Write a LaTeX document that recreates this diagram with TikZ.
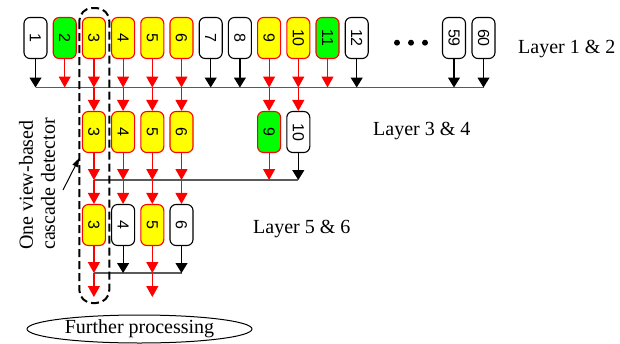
\documentclass[tikz,border=0pt]{standalone}
\usepackage{fontspec}
\usepackage{graphicx}
\setmainfont{Liberation Serif}
\newfontfamily\numfont{Liberation Sans}
\usetikzlibrary{arrows.meta,shapes.geometric}
\definecolor{pgreen}{RGB}{0,255,0}
\definecolor{pyellow}{RGB}{255,255,0}
\definecolor{pred}{RGB}{255,0,0}
\definecolor{busgray}{RGB}{90,90,90}
\newcommand{\bn}[1]{\rotatebox{-90}{\numfont\fontsize{16}{16}\selectfont #1}}
\tikzset{
  boxbase/.style={rectangle, rounded corners=6pt, minimum width=23pt, minimum height=41pt, inner sep=0pt, line width=1.1pt},
  wbox/.style={boxbase, draw=black, fill=white},
  ybox/.style={boxbase, draw=pred, fill=pyellow},
  gbox/.style={boxbase, draw=pred, fill=pgreen},
  rarr/.style={draw=pred, line width=1.2pt, -{Triangle[width=12pt,length=11pt]}},
  barr/.style={draw=black, line width=1.2pt, -{Triangle[width=12pt,length=10pt]}},
  busline/.style={draw=busgray, line width=1.4pt},
  dashbox/.style={draw=black, line width=2pt, dash pattern=on 8pt off 4pt, rounded corners=13pt},
  lbl/.style={inner sep=0pt, font=\fontsize{20}{22}\selectfont},
}
\begin{document}
\begin{tikzpicture}[x=1pt,y=-1pt]
\useasboundingbox (0,0) rectangle (620,343);
% Layer 1 & 2
\foreach \n/\x/\s/\a in {1/35.5/wbox/barr, 2/64.7/gbox/rarr, 3/93.9/ybox/rarr, 4/123.1/ybox/rarr, 5/152.3/ybox/rarr, 6/181.5/ybox/rarr, 7/210.7/wbox/barr, 8/239.9/wbox/barr, 9/269.1/ybox/rarr, 10/298.3/ybox/rarr, 11/327.5/gbox/rarr, 12/356.7/wbox/barr, 59/454/wbox/barr, 60/483.5/wbox/barr}
  {\node[\s] (a\n) at (\x,38) {\bn{\n}};}
\coordinate (bus1L) at (35.5,87.5);
\coordinate (bus1R) at (483.5,87.5);
\draw[busline] (bus1L) -- (bus1R);
\foreach \n/\a in {1/barr, 2/rarr, 3/rarr, 4/rarr, 5/rarr, 6/rarr, 7/barr, 8/barr, 9/rarr, 10/rarr, 11/rarr, 12/barr, 59/barr, 60/barr}
  {\draw[\a] (a\n.south) -- (a\n.south |- bus1L);}
\foreach \x in {397,411,425} {\fill (\x,42.7) circle (3pt);}
% Layer 3 & 4
\foreach \n/\x/\s in {3/93.9/ybox, 4/123.1/ybox, 5/152.3/ybox, 6/181.5/ybox, 9/269.1/gbox, 10/298.3/wbox}
  {\node[\s] (b\n) at (\x,132) {\bn{\n}};
   \draw[rarr] (b\n.north |- bus1L) -- (b\n.north);}
\coordinate (bus2L) at (93.9,180);
\coordinate (bus2R) at (298.3,180);
\draw[busline] (bus2L) -- (bus2R);
\foreach \n/\a in {3/rarr, 4/rarr, 5/rarr, 6/rarr, 9/rarr, 10/barr}
  {\draw[\a] (b\n.south) -- (b\n.south |- bus2L);}
% Layer 5 & 6
\foreach \n/\x/\s in {3/93.9/ybox, 4/123.1/wbox, 5/152.3/ybox, 6/181.5/wbox}
  {\node[\s] (c\n) at (\x,225) {\bn{\n}};
   \draw[rarr] (c\n.north |- bus2L) -- (c\n.north);}
\coordinate (bus3L) at (93.9,273);
\coordinate (bus3R) at (181.5,273);
\draw[busline] (bus3L) -- (bus3R);
\foreach \n/\a in {3/rarr, 4/barr, 5/rarr, 6/barr}
  {\draw[\a] (c\n.south) -- (c\n.south |- bus3L);}
\coordinate (e3) at (93.9,297);
\coordinate (e5) at (152.3,297);
\draw[rarr] (c3.south |- bus3L) -- (e3);
\draw[rarr] (c5.south |- bus3L) -- (e5);
% detector box
\draw[dashbox] (79.3,8) rectangle (109.3,303);
\node[lbl, rotate=90, align=left] (det) at (37,184) {One view-based\\cascade detector};
\coordinate (arrS) at (63,190);
\coordinate (arrE) at (79.3,158);
\draw[line width=1pt, -{Triangle[width=6pt,length=9pt]}] (arrS) -- (arrE);
% labels
\node[lbl, anchor=base west] (l12) at (518,53.3) {Layer 1 \& 2};
\node[lbl, anchor=base west] (l34) at (373,135) {Layer 3 \& 4};
\node[lbl, anchor=base west] (l56) at (253,233) {Layer 5 \& 6};
\node[ellipse, draw, line width=1pt, minimum width=225pt, minimum height=28pt, inner sep=0pt, font=\fontsize{20}{22}\selectfont] (fp) at (139.5,329) {Further processing};
\end{tikzpicture}
\end{document}
